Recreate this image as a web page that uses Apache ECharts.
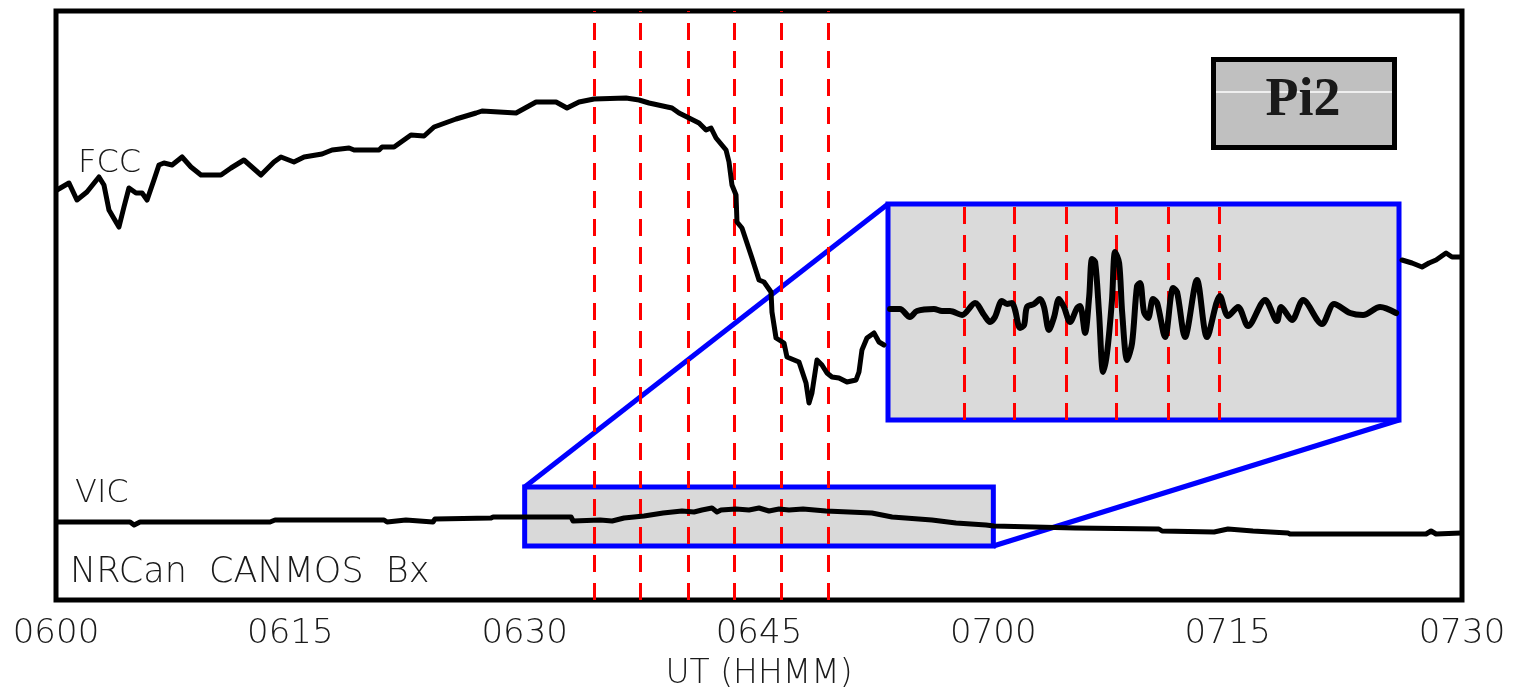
<!DOCTYPE html>
<html><head><meta charset="utf-8">
<script src="https://cdn.jsdelivr.net/npm/echarts@6/dist/echarts.min.js"></script>
<style>html,body{margin:0;padding:0;background:#fff}#c{width:1515px;height:694px}</style>
</head><body><div id="c"></div>
<script>
// ---- tick labels (minutes after 0600 UT) ----
const tickLabels = ['0600','0615','0630','0645','0700','0715','0730'];

// ---- FCC trace: minutes after 0600, relative amplitude (null = hidden behind inset) ----
const fccTime = [0.06,0.83,1.34,1.98,2.75,3.07,3.39,3.84,4.03,4.35,4.67,5.12,5.51,5.83,6.27,6.59,6.91,7.43,8.07,8.64,9.28,10.56,11.20,12.03,13.12,13.95,14.40,15.23,15.88,17.03,17.67,18.76,19.08,20.68,20.87,21.64,22.72,23.56,24.20,25.61,26.89,27.27,28.36,29.45,30.73,32.01,32.71,33.48,34.44,36.49,37.32,37.96,39.43,39.88,40.52,41.16,41.61,41.93,42.25,42.89,43.08,43.27,43.53,43.59,43.91,44.55,45.00,45.32,45.77,45.83,46.09,46.60,46.79,47.56,48.01,48.20,48.39,48.71,49.03,49.35,49.67,50.12,50.63,51.21,51.40,51.59,51.91,52.36,52.68,53.00,70.00,86.16,86.80,87.44,87.89,88.34,88.98,89.36,89.94];
const fccValue = [410,417,400,408,423,415,390,378,373,393,412,407,407,400,420,435,437,435,443,433,425,425,432,440,425,438,443,438,443,446,450,452,450,450,453,453,465,464,473,481,487,489,488,487,498,498,492,498,501,502,500,497,492,487,482,477,470,472,462,450,438,415,405,378,372,342,320,318,308,288,262,257,243,238,217,197,207,240,235,227,223,222,218,220,228,250,262,267,258,255,null,340,337,333,337,340,347,343,343];

// ---- VIC trace ----
const vicTime = [0,4.74,5.0,5.38,13.70,14.02,21.0,21.19,22.40,24.13,24.26,27.85,27.98,32.97,33.10,34.83,35.60,36.36,37.64,38.86,40.07,40.84,41.35,41.99,42.31,42.57,43.53,44.36,45.00,45.64,46.28,46.92,47.82,49.29,52.23,53.52,56.07,57.61,59.53,60.04,65.23,70.60,70.80,74.13,75.02,76.62,78.86,78.99,87.70,88.02,88.34,89.94];
const vicValue = [78,78,75,78,78,80,80,78,80,78,81,82,83,83,79,80,79,82,84,87,89,88,90,92,88,90,91,90,92,89,91,90,91,89,87,83,80,77,75,74,72,71,69,68,71,69,67,66,66,69,66,67];

// ---- Inset (VIC zoomed, 0630-0700) ----
const insetTime = [30.12,30.70,31.29,31.70,32.70,33.17,33.64,34.35,35.11,35.64,35.99,36.28,36.69,36.99,37.28,37.46,37.75,37.99,38.16,38.57,38.93,39.16,39.45,39.75,40.04,40.33,40.69,41.10,41.28,41.57,41.81,41.98,42.16,42.39,42.63,42.86,43.15,43.33,43.57,43.75,44.04,44.33,44.62,44.80,45.03,45.27,45.56,45.80,46.27,46.74,46.97,47.44,48.14,48.73,49.49,49.96,50.55,51.14,52.14,52.84,53.08,53.72,54.37,55.48,56.19,57.13,57.89,58.89,59.83];
const insetValue = [111,111,103,109,111,109,109,105,117,105,98,103,119,116,117,110,92,95,113,116,121,113,90,103,121,113,98,112,114,87,123,161,158,107,48,67,120,168,157,107,60,77,134,137,108,102,121,117,83,132,128,83,140,83,124,104,113,94,120,99,113,100,120,96,116,107,105,113,107];

// ---- Pi2 marker times (red dashed) and zoom window ----
const markerTimes = [34.45,37.4,40.45,43.4,46.45,49.45];
const zoomX = [30,60];
const zoomY = [54,113];
const insetY = [0,216];

const zip = (t,v)=>t.map((x,i)=>[x,v[i]]);
const dash = {type:[17,11], width:3, color:'#ff0000'};
const mLine = {silent:true, symbol:['none','none'], label:{show:false}, lineStyle:dash,
  data: markerTimes.map(t=>({xAxis:t}))};
const font = 'DejaVu Sans';
const txtCol = '#1a1a1a';

const chart = echarts.init(document.getElementById('c'));
chart.setOption({
  animation:false,
  grid:[
    {left:56, top:11, width:1406, height:589, show:true, borderColor:'#000', borderWidth:5, backgroundColor:'transparent', containLabel:false, outerBoundsMode:'none'},
    {left:888, top:204, width:511, height:216, show:true, borderColor:'#0000ff', borderWidth:5, backgroundColor:'#dadada', z:3, containLabel:false, outerBoundsMode:'none'}
  ],
  xAxis:[
    {type:'value', gridIndex:0, min:0, max:90, interval:15,
     axisLine:{show:false}, axisTick:{show:false}, splitLine:{show:false},
     axisLabel:{formatter:v=>tickLabels[Math.round(v/15)], fontFamily:font, fontWeight:200, fontSize:34, color:txtCol, margin:17},
     name:'UT (HHMM)', nameLocation:'middle', nameGap:58,
     nameTextStyle:{fontFamily:font, fontWeight:200, fontSize:33, color:txtCol}},
    {type:'value', gridIndex:1, min:zoomX[0], max:zoomX[1], show:false}
  ],
  yAxis:[
    {type:'value', gridIndex:0, min:0, max:589, show:false},
    {type:'value', gridIndex:1, min:insetY[0], max:insetY[1], show:false}
  ],
  series:[
    {type:'line', name:'FCC', xAxisIndex:0, yAxisIndex:0, data:zip(fccTime,fccValue), showSymbol:false,
     lineStyle:{color:'#000', width:5, join:'round', cap:'round'}, z:10, markLine:mLine},
    {type:'line', name:'VIC', xAxisIndex:0, yAxisIndex:0, data:zip(vicTime,vicValue), showSymbol:false,
     lineStyle:{color:'#000', width:5, join:'round'}, z:10,
     markArea:{silent:true, itemStyle:{color:'#d9d9d9', borderColor:'#0000ff', borderWidth:5},
       data:[[{xAxis:zoomX[0], yAxis:zoomY[0]},{xAxis:zoomX[1], yAxis:zoomY[1]}]]}},
    {type:'line', name:'VIC zoom', xAxisIndex:1, yAxisIndex:1, data:zip(insetTime,insetValue), showSymbol:false,
     smooth:0.3, lineStyle:{color:'#000', width:6, join:'round', cap:'round'}, z:10, markLine:mLine}
  ],
  graphic:[
    {type:'text', left:78, top:148, z:20, style:{text:'FCC', font:'200 32px "DejaVu Sans"', fill:txtCol}},
    {type:'text', left:75, top:478, z:20, style:{text:'VIC', font:'200 32px "DejaVu Sans"', fill:txtCol}},
    {type:'text', left:70, top:555, z:20, style:{text:'NRCan  CANMOS  Bx', font:'200 35px "DejaVu Sans"', fill:txtCol}},
    {type:'rect', z:20, shape:{x:1213.5, y:59.5, width:181, height:88}, style:{fill:'#c0c0c0', stroke:'#000', lineWidth:5}},
    {type:'line', z:21, shape:{x1:1216, y1:92, x2:1392, y2:92}, style:{stroke:'#fff', lineWidth:1.5}},
    {type:'text', z:22, x:1303, y:101, style:{text:'Pi2', font:'bold 54px "Liberation Serif"', fill:'#1a1a1a', align:'center', verticalAlign:'middle'}}
  ]
});

const p1 = chart.convertToPixel({xAxisIndex:0, yAxisIndex:0}, [zoomX[0], zoomY[1]]);
const p2 = chart.convertToPixel({xAxisIndex:1, yAxisIndex:1}, [zoomX[0], insetY[1]]);
const p3 = chart.convertToPixel({xAxisIndex:0, yAxisIndex:0}, [zoomX[1], zoomY[0]]);
const p4 = chart.convertToPixel({xAxisIndex:1, yAxisIndex:1}, [zoomX[1], insetY[0]]);
chart.setOption({graphic:[
  {type:'line', id:'c1', z:5, shape:{x1:p1[0], y1:p1[1], x2:p2[0], y2:p2[1]}, style:{stroke:'#0000ff', lineWidth:5}},
  {type:'line', id:'c2', z:5, shape:{x1:p3[0], y1:p3[1], x2:p4[0], y2:p4[1]}, style:{stroke:'#0000ff', lineWidth:5}}
]});
</script></body></html>
